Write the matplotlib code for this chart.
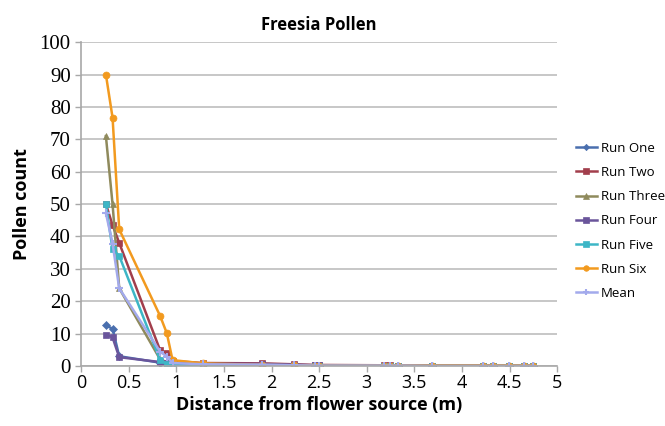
import matplotlib
matplotlib.use("Agg")
import matplotlib.pyplot as plt

# distances (m) shared by all runs
distance = [0.26, 0.33, 0.40, 0.83, 0.90, 0.96, 1.28, 1.90, 2.24, 2.46, 2.50,
            3.18, 3.24, 3.33, 3.68, 4.22, 4.33, 4.49, 4.65, 4.75]

run_one = [12.5, 11.5, 3.0, 1.0, 0.8, 0.5, 0.4, 0.3, 0.2, 0.1, 0.1,
           0.1, 0.1, 0.0, 0.0, 0.0, 0.0, 0.0, 0.0, 0.0]
run_two = [50.0, 43.5, 38.0, 4.8, 4.0, 1.5, 0.9, 0.8, 0.5, 0.3, 0.3,
           0.2, 0.2, 0.1, 0.1, 0.1, 0.0, 0.0, 0.0, 0.0]
run_three = [71.0, 50.0, 24.0, 2.0, 1.2, 0.5, 0.3, 0.2, 0.1, 0.1, 0.0,
             0.0, 0.0, 0.0, 0.0, 0.0, 0.0, 0.0, 0.0, 0.0]
run_four = [9.7, 8.8, 2.7, 1.2, 1.0, 0.8, 0.7, 0.6, 0.4, 0.2, 0.2,
            0.1, 0.1, 0.1, 0.0, 0.0, 0.0, 0.0, 0.0, 0.0]
run_five = [50.0, 36.0, 34.0, 1.8, 0.6, 0.2, 0.1, 0.0, 0.0, 0.0, 0.0,
            0.0, 0.0, 0.0, 0.0, 0.0, 0.0, 0.0, 0.0, 0.0]
run_six = [90.0, 76.7, 42.2, 15.4, 10.1, 1.8, 0.8, 0.3, 0.2, 0.1, 0.1,
           0.1, 0.1, 0.1, 0.1, 0.1, 0.1, 0.1, 0.1, 0.1]
mean = [47.2, 37.8, 24.0, 4.4, 2.9, 0.9, 0.5, 0.4, 0.2, 0.1, 0.1,
        0.1, 0.1, 0.1, 0.0, 0.0, 0.0, 0.0, 0.0, 0.0]

series = [
    ("Run One", run_one, "#4A6FAE", "D", 4),
    ("Run Two", run_two, "#A23E4C", "s", 5),
    ("Run Three", run_three, "#8F8A5C", "^", 5),
    ("Run Four", run_four, "#6A559B", "s", 5),
    ("Run Five", run_five, "#3DB6C6", "s", 5),
    ("Run Six", run_six, "#F29A1F", "o", 5),
    ("Mean", mean, "#A3AAEC", "+", 6),
]

fig = plt.figure(figsize=(6.65, 4.26), dpi=100)
ax = fig.add_axes([0.122, 0.141, 0.716, 0.760])

for name, vals, col, mk, ms in series:
    ax.plot(distance, vals, color=col, marker=mk, markersize=ms, lw=1.8,
            label=name, mew=1.5 if mk == "+" else 0.5)

ax.set_xlim(0, 5)
ax.set_ylim(0, 100)
ax.set_xticks([0, 0.5, 1, 1.5, 2, 2.5, 3, 3.5, 4, 4.5, 5])
ax.set_xticklabels(["0", "0.5", "1", "1.5", "2", "2.5", "3", "3.5", "4", "4.5", "5"],
                   fontfamily="Open Sans", fontsize=13)
ax.set_yticks(range(0, 101, 10))
ax.set_yticklabels([str(v) for v in range(0, 101, 10)],
                   fontfamily="Liberation Serif", fontsize=15)
ax.grid(axis="y", color="#BEBEBE", lw=1.2)
ax.set_axisbelow(True)
for s in ["top", "right"]:
    ax.spines[s].set_visible(False)
for s in ["left", "bottom"]:
    ax.spines[s].set_color("#A8A8A8")
    ax.spines[s].set_linewidth(1.2)
ax.tick_params(axis="both", color="#A8A8A8", length=4, width=1)
ax.tick_params(axis="x", pad=2)

ax.set_title("Freesia Pollen", fontfamily="Open Sans", fontweight="bold",
             fontsize=12, pad=9)
ax.set_xlabel("Distance from flower source (m)", fontfamily="Open Sans",
              fontweight="bold", fontsize=13, labelpad=3)
ax.set_ylabel("Pollen count", fontfamily="Open Sans", fontweight="bold",
              fontsize=13, labelpad=6)

fig.legend(loc="upper left", bbox_to_anchor=(0.848, 0.695), frameon=False,
           prop={"family": "Open Sans", "size": 9.5}, handlelength=1.6,
           handletextpad=0.3, labelspacing=0.85, markerscale=0.8)

fig.savefig("out.png", dpi=100)
